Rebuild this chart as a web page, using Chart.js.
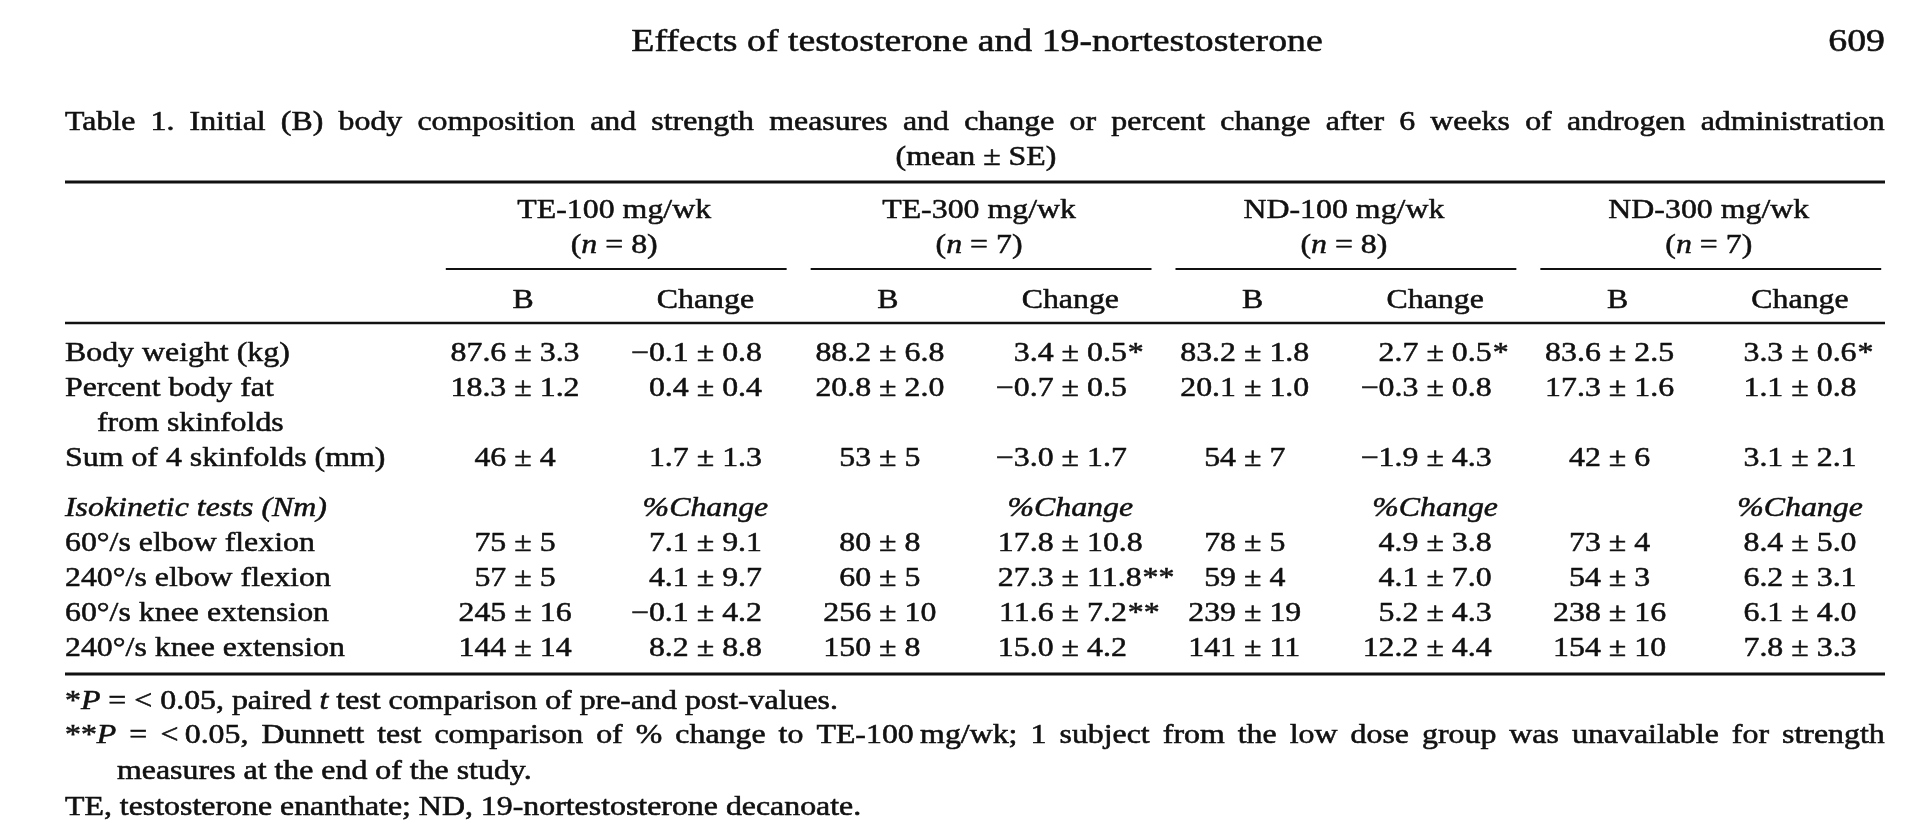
<!DOCTYPE html>
<html><head><meta charset="utf-8">
<title>Table 1 – Effects of testosterone and 19-nortestosterone</title>
<script src="https://cdn.jsdelivr.net/npm/chart.js@4.4.1/dist/chart.umd.min.js"></script>
<style>
html,body{margin:0;padding:0;background:#fff;}
body{width:1928px;height:834px;position:relative;overflow:hidden;font-family:"Liberation Serif","Times New Roman",serif;color:#111;}
#c{position:absolute;left:0;top:0;}
.tx{position:absolute;white-space:pre;line-height:1;-webkit-text-stroke:0.55px #111;}
.jl{position:absolute;display:flex;justify-content:space-between;line-height:1;transform-origin:0 0;-webkit-text-stroke:0.55px #111;}
.jl span{white-space:pre;}
</style></head><body>
<canvas id="c" width="1928" height="834"></canvas>
<script>
// ---------------- data ----------------
const groupNames = ["TE-100 mg/wk", "TE-300 mg/wk", "ND-100 mg/wk", "ND-300 mg/wk"];
const groupN = [8, 7, 8, 7];
const subHeads = ["B", "Change"];
const columnKeys = ["TE-100 B", "TE-100 Change", "TE-300 B", "TE-300 Change",
                    "ND-100 B", "ND-100 Change", "ND-300 B", "ND-300 Change"];
const rowLabels = ["Body weight (kg)", "Percent body fat", "from skinfolds", "Sum of 4 skinfolds (mm)",
                   "Isokinetic tests (Nm)", "60°/s elbow flexion", "240°/s elbow flexion",
                   "60°/s knee extension", "240°/s knee extension"];
const isoChangeHead = "%Change";

const bodyWeightMean = [87.6, -0.1, 88.2, 3.4, 83.2, 2.7, 83.6, 3.3];
const bodyWeightSE   = [3.3, 0.8, 6.8, 0.5, 1.8, 0.5, 2.5, 0.6];
const bodyWeightSig  = ["", "", "", "*", "", "*", "", "*"];
const bodyFatMean    = [18.3, 0.4, 20.8, -0.7, 20.1, -0.3, 17.3, 1.1];
const bodyFatSE      = [1.2, 0.4, 2.0, 0.5, 1.0, 0.8, 1.6, 0.8];
const skinfoldMean   = [46, 1.7, 53, -3.0, 54, -1.9, 42, 3.1];
const skinfoldSE     = [4, 1.3, 5, 1.7, 7, 4.3, 6, 2.1];
const elbow60Mean    = [75, 7.1, 80, 17.8, 78, 4.9, 73, 8.4];
const elbow60SE      = [5, 9.1, 8, 10.8, 5, 3.8, 4, 5.0];
const elbow240Mean   = [57, 4.1, 60, 27.3, 59, 4.1, 54, 6.2];
const elbow240SE     = [5, 9.7, 5, 11.8, 4, 7.0, 3, 3.1];
const elbow240Sig    = ["", "", "", "**", "", "", "", ""];
const knee60Mean     = [245, -0.1, 256, 11.6, 239, 5.2, 238, 6.1];
const knee60SE       = [16, 4.2, 10, 7.2, 19, 4.3, 16, 4.0];
const knee60Sig      = ["", "", "", "**", "", "", "", ""];
const knee240Mean    = [144, 8.2, 150, 15.0, 141, 12.2, 154, 7.8];
const knee240SE      = [14, 8.8, 8, 4.2, 11, 4.4, 10, 3.3];
const noSig          = ["", "", "", "", "", "", "", ""];

// rows that carry values: [row label index, means, SEs, markers, decimals of B columns]
const dataRows = [
  [0, bodyWeightMean, bodyWeightSE, bodyWeightSig, 1],
  [1, bodyFatMean, bodyFatSE, noSig, 1],
  [3, skinfoldMean, skinfoldSE, noSig, 0],
  [5, elbow60Mean, elbow60SE, noSig, 0],
  [6, elbow240Mean, elbow240SE, elbow240Sig, 0],
  [7, knee60Mean, knee60SE, knee60Sig, 0],
  [8, knee240Mean, knee240SE, noSig, 0]
];

// ---------------- style / layout ----------------
const SX = 1.18;                // horizontal stretch of the printed face
const FAM = '"Liberation Serif","Times New Roman",serif';
const FS = 27;
const F  = FS + 'px ' + FAM;
const FI = 'italic ' + FS + 'px ' + FAM;
const INK = '#111';
const CAP_HALF = 0.331 * FS;
const ISO_ROW = 4;
const L = { tableLeft: 65, tableRight: 1885, ruleTop: 182, groupY: 209, nY: 244, groupRuleY: 269,
            subY: 299, headRuleY: 323, bottomRuleY: 674, indent: 32, sectionGap: 15 };

function fmt(v, dec) { return v.toFixed(dec).replace('-', '\u2212'); }

function tw(ctx, s, font) { ctx.font = font; return ctx.measureText(s).width * SX; }
function txt(ctx, s, x, y, align, font) {
  const w = tw(ctx, s, font);
  const x0 = align === 'center' ? x - w / 2 : align === 'right' ? x - w : x;
  ctx.save(); ctx.translate(x0, y); ctx.scale(SX, 1);
  ctx.textAlign = 'left'; ctx.textBaseline = 'alphabetic'; ctx.font = font;
  ctx.lineWidth = 0.5; ctx.lineJoin = 'round';
  ctx.fillText(s, 0, 0); ctx.strokeText(s, 0, 0); ctx.restore();
  return w;
}
function hline(ctx, x1, x2, y, w) {
  ctx.save(); ctx.lineWidth = w; ctx.beginPath(); ctx.moveTo(x1, y); ctx.lineTo(x2, y); ctx.stroke(); ctx.restore();
}
function drawCell(ctx, cx, y, m, s, sig) {
  const wpm = tw(ctx, '\u00b1', F), sp = tw(ctx, ' ', F);
  txt(ctx, m, cx - wpm / 2 - sp, y, 'right', F);
  txt(ctx, '\u00b1', cx, y, 'center', F);
  const ws = txt(ctx, s, cx + wpm / 2 + sp, y, 'left', F);
  if (sig) txt(ctx, sig, cx + wpm / 2 + sp + ws + 1, y, 'left', F);
}
function rowPix(ys, ri) { return ys.getPixelForValue(ri) + (ri >= ISO_ROW ? L.sectionGap : 0); }

const tablePlugin = {
  id: 'tablePlugin',
  afterDatasetsDraw(chart) {
    const ctx = chart.ctx, xs = chart.scales.x, ys = chart.scales.y;
    ctx.save(); ctx.fillStyle = INK; ctx.strokeStyle = INK;
    hline(ctx, L.tableLeft, L.tableRight, L.ruleTop, 3.2);
    hline(ctx, L.tableLeft, L.tableRight, L.headRuleY, 2.6);
    hline(ctx, L.tableLeft, L.tableRight, L.bottomRuleY, 3.2);
    groupNames.forEach((g, gi) => {
      const xa = xs.getPixelForValue(2 * gi), xb = xs.getPixelForValue(2 * gi + 1);
      const cx = (xa + xb) / 2, cw = xb - xa;
      txt(ctx, g, cx, L.groupY + CAP_HALF, 'center', F);
      const parts = [['(', F], ['n', FI], [' = ' + groupN[gi] + ')', F]];
      let tot = 0; parts.forEach(p => tot += tw(ctx, p[0], p[1]));
      let x = cx - tot / 2; parts.forEach(p => { x += txt(ctx, p[0], x, L.nY + CAP_HALF, 'left', p[1]); });
      hline(ctx, xa - cw / 2 + 14, Math.min(xb + cw / 2 - 10, L.tableRight), L.groupRuleY, 2.2);
      subHeads.forEach((s, si) => txt(ctx, s, xs.getPixelForValue(2 * gi + si), L.subY + CAP_HALF, 'center', F));
      txt(ctx, isoChangeHead, xb, rowPix(ys, ISO_ROW) + CAP_HALF, 'center', FI);
    });
    rowLabels.forEach((lab, ri) => {
      txt(ctx, lab, L.tableLeft + (ri === 2 ? L.indent : 0), rowPix(ys, ri) + CAP_HALF, 'left', ri === ISO_ROW ? FI : F);
    });
    chart.data.datasets.forEach((ds, di) => {
      const [ri, means, ses, sigs, decB] = dataRows[di];
      chart.getDatasetMeta(di).data.forEach((pt, i) => {
        const dec = i % 2 ? 1 : decB;
        const y = pt.y + (ri >= ISO_ROW ? L.sectionGap : 0) + CAP_HALF;
        drawCell(ctx, pt.x, y, fmt(means[i], dec), fmt(ses[i], dec), sigs[i]);
      });
    });
    ctx.restore();
  }
};

new Chart(document.getElementById('c'), {
  type: 'scatter',
  data: {
    datasets: dataRows.map(r => ({
      label: rowLabels[r[0]],
      data: columnKeys.map(k => ({ x: k, y: rowLabels[r[0]] })),
      pointRadius: 0, pointHoverRadius: 0
    }))
  },
  options: {
    responsive: false, animation: false, devicePixelRatio: 1,
    layout: { padding: { left: 431.8, right: 36.8, top: 334.2, bottom: 184.8 } },
    plugins: { legend: { display: false }, tooltip: { enabled: false }, title: { display: false } },
    events: [],
    scales: {
      x: { type: 'category', labels: columnKeys, offset: true, display: false },
      y: { type: 'category', labels: rowLabels, offset: true, display: false }
    }
  },
  plugins: [tablePlugin]
});

// ---------------- page text (HTML) ----------------
function addText(html, x, y, fs, align) {
  const d = document.createElement('div');
  d.className = 'tx'; d.innerHTML = html; d.style.fontSize = fs + 'px';
  d.style.top = (y - 0.5065 * fs) + 'px';
  if (align === 'left') { d.style.left = x + 'px'; d.style.transformOrigin = '0 0'; d.style.transform = 'scaleX(' + SX + ')'; }
  else if (align === 'right') { d.style.right = (1928 - x) + 'px'; d.style.transformOrigin = '100% 0'; d.style.transform = 'scaleX(' + SX + ')'; }
  else { d.style.left = x + 'px'; d.style.transformOrigin = '50% 0'; d.style.transform = 'translateX(-50%) scaleX(' + SX + ')'; }
  document.body.appendChild(d);
}
function addJustified(words, x, y, fs, width) {
  const d = document.createElement('div');
  d.className = 'jl'; d.style.fontSize = fs + 'px';
  d.style.left = x + 'px'; d.style.top = (y - 0.5065 * fs) + 'px';
  d.style.width = (width / SX) + 'px'; d.style.transform = 'scaleX(' + SX + ')';
  words.forEach(w => { const s = document.createElement('span'); s.innerHTML = w; d.appendChild(s); });
  document.body.appendChild(d);
}

addText('Effects of testosterone and 19-nortestosterone', 976.5, 40, 32, 'center');
addText('609', 1885, 40, 32, 'right');
addJustified('Table 1. Initial (B) body composition and strength measures and change or percent change after 6 weeks of androgen administration'.split(' '), 65, 122, 27, 1820);
addText('(mean \u00b1 SE)', 976, 157, 27, 'center');
addText('*<i>P</i> = &lt; 0.05, paired <i>t</i> test comparison of pre-and post-values.', 65, 701, 27, 'left');
addJustified(['**<i>P</i>', '=', '&lt;&#8201;0.05,', 'Dunnett', 'test', 'comparison', 'of', '%', 'change', 'to', 'TE-100&#8201;mg/wk;', '1', 'subject', 'from', 'the', 'low', 'dose', 'group', 'was', 'unavailable', 'for', 'strength'], 65, 735, 27, 1820);
addText('measures at the end of the study.', 117, 771, 27, 'left');
addText('TE, testosterone enanthate; ND, 19-nortestosterone decanoate.', 65, 807, 27, 'left');
</script>
</body></html>
